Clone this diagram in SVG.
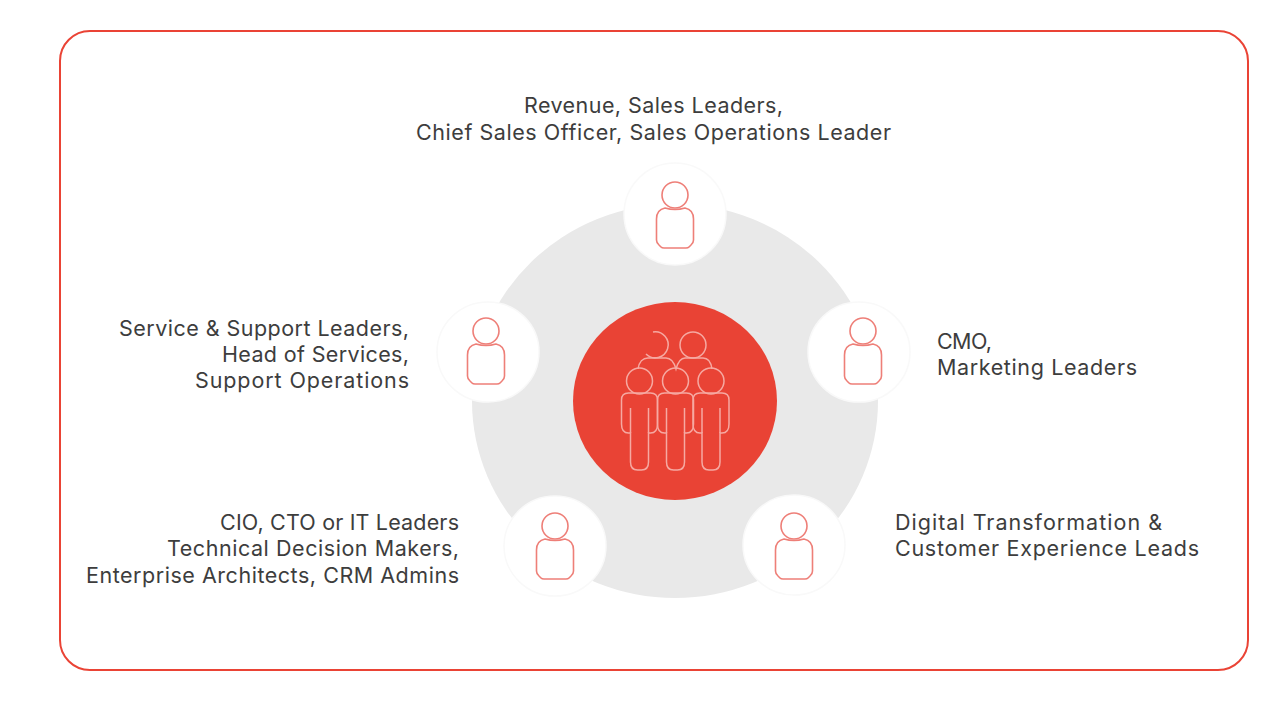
<svg xmlns="http://www.w3.org/2000/svg" xmlns:xlink="http://www.w3.org/1999/xlink" width="1280" height="720" viewBox="0 0 1280 720">
<style>
.t{font-family:"Inter","Liberation Sans",sans-serif;font-size:21.5px;fill:#3d3d3d}
.m{text-anchor:middle}.e{text-anchor:end}
.wc{fill:#fff;stroke:#f9f9f9;stroke-width:1.500}
.ic{fill:none;stroke:#ee7f78;stroke-width:1.6}
.gi{fill:none;stroke:#f6a9a2;stroke-width:1.5}
</style>
<defs>
<g id="person">
<ellipse cx="0" cy="-19" rx="13" ry="13"/>
<path d="M-10 -6C-15 -5 -18.500 -1 -18.500 5V26Q-18.500 29 -16 31L-14 33Q-13 34 -11 34H11Q13 34 14 33L16 31Q18.500 29 18.500 26V5C18.500 -1 15 -5 10 -6Q0 -3 -10 -6Z"/>
</g>
<g id="fig">
<circle cx="0" cy="-19" r="13"/>
<path d="M-11 -7H11Q18 -7 18 0V24Q18 33 11 33H9V62Q9 70 2 70H-2Q-9 70 -9 62V33H-11Q-18 33 -18 24V0Q-18 -7 -11 -7Z"/>
<path d="M-9 8V33M9 8V33"/>
</g>
</defs>
<rect id="frame" x="60" y="31" width="1188" height="639" rx="30" ry="30" fill="#fff" stroke="#ea4335" stroke-width="2"/>
<ellipse id="ring" cx="675" cy="401" rx="203" ry="197" fill="#e9e9e9"/>
<g id="center">
<ellipse cx="675" cy="401" rx="102" ry="99" fill="#e94335"/>
<g class="gi">
<path d="M653 332A13 13 0 1 1 646 354"/>
<circle cx="693" cy="345" r="13"/>
<path d="M638 369C639 362 643 358 648 358H666C671 358 674 362 676 369C678 362 681 358 685 358H703C708 358 711 362 712 369"/>
<use xlink:href="#fig" href="#fig" x="639.500" y="400"/>
<use xlink:href="#fig" href="#fig" x="675.500" y="400"/>
<use xlink:href="#fig" href="#fig" x="711" y="400"/>
</g>
</g>
<g id="node-top"><ellipse class="wc" cx="675" cy="214" rx="51" ry="51"/><use class="ic" xlink:href="#person" href="#person" x="675" y="214"/>
<text class="t m" x="653.500" y="113" textLength="259">Revenue, Sales Leaders,</text><text class="t m" x="653.500" y="140" textLength="475">Chief Sales Officer, Sales Operations Leader</text></g>
<g id="node-left"><ellipse class="wc" cx="488" cy="352" rx="51" ry="50"/><use class="ic" xlink:href="#person" href="#person" x="486" y="350"/>
<text class="t e" x="409" y="336" textLength="290">Service &amp; Support Leaders,</text><text class="t e" x="409" y="362" textLength="187">Head of Services,</text><text class="t e" x="409" y="388" textLength="214">Support Operations</text></g>
<g id="node-right"><ellipse class="wc" cx="859" cy="352" rx="51" ry="50"/><use class="ic" xlink:href="#person" href="#person" x="863" y="350"/>
<text class="t" x="937" y="349" textLength="55">CMO,</text><text class="t" x="937" y="375" textLength="200">Marketing Leaders</text></g>
<g id="node-bl"><ellipse class="wc" cx="555" cy="546" rx="51" ry="50"/><use class="ic" xlink:href="#person" href="#person" x="555" y="545"/>
<text class="t e" x="459" y="530" textLength="239">CIO, CTO or IT Leaders</text><text class="t e" x="459" y="556" textLength="292">Technical Decision Makers,</text><text class="t e" x="459" y="583" textLength="373">Enterprise Architects, CRM Admins</text></g>
<g id="node-br"><ellipse class="wc" cx="794" cy="545" rx="51" ry="50"/><use class="ic" xlink:href="#person" href="#person" x="794" y="545"/>
<text class="t" x="895" y="530" textLength="267">Digital Transformation &amp;</text><text class="t" x="895" y="556" textLength="304">Customer Experience Leads</text></g>
<g id="connectors"/>
</svg>
